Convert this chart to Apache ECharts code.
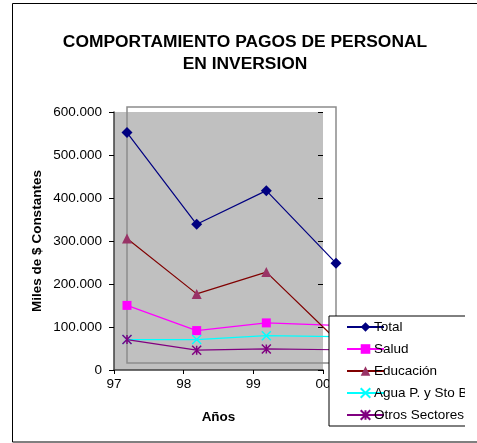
<!DOCTYPE html>
<html>
<head>
<meta charset="utf-8">
<script src="https://cdn.jsdelivr.net/npm/echarts@6/dist/echarts.min.js"></script>
<style>
  html, body { margin: 0; padding: 0; background: #fff; }
  #container { width: 477px; height: 443px; }
</style>
</head>
<body>
<div id="container"></div>
<script>
const years = ["97", "98", "99", "00"];
const total = [540000, 325000, 404000, 234000];
const salud = [135000, 76000, 94000, 88000];
const educacion = [292000, 162000, 213000, 55000];
const agua = [55000, 55000, 64000, 62000];
const otros = [55000, 30000, 33000, 31000];

const FONT = "Liberation Sans, Arial, sans-serif";

const dom = document.getElementById("container");
const myChart = echarts.init(dom, null, { renderer: "canvas" });

function miles(v) {
  return v === 0 ? "0" : v / 1000 + ".000";
}

function serie(name, data, color, symbol, symbolColor, size, stroke) {
  return {
    name: name,
    type: "line",
    xAxisIndex: 1,
    yAxisIndex: 1,
    data: data,
    symbol: symbol,
    symbolSize: size,
    clip: false,
    lineStyle: { color: color, width: 1.2 },
    itemStyle: stroke
      ? { color: symbolColor, borderColor: symbolColor, borderWidth: 1.5 }
      : { color: symbolColor, borderWidth: 0 },
    emphasis: { disabled: true },
  };
}

const option = {
  animation: false,
  textStyle: { fontFamily: FONT },
  title: {
    text: "COMPORTAMIENTO PAGOS DE PERSONAL\nEN INVERSION",
    left: 245,
    top: 31,
    padding: 0,
    textAlign: "center",
    textStyle: {
      fontFamily: FONT,
      fontSize: 17.4,
      fontWeight: "bold",
      color: "#000",
      lineHeight: 22,
    },
  },
  grid: [
    {
      left: 114, top: 112, width: 209, height: 258,
      show: true, backgroundColor: "#c0c0c0", borderWidth: 0,
    },
    {
      left: 127, top: 107, width: 209, height: 256,
      show: true, backgroundColor: "transparent",
      borderColor: "#8c8c8c", borderWidth: 1.5,
    },
  ],
  xAxis: [
    {
      type: "category", gridIndex: 0, data: years, boundaryGap: false,
      axisLine: { lineStyle: { color: "#404040", width: 1.5 } },
      axisTick: { length: 4, lineStyle: { color: "#000" } },
      axisLabel: { fontSize: 13.5, color: "#000", margin: 7, fontFamily: FONT },
      name: "Años", nameLocation: "middle", nameGap: 40,
      nameTextStyle: { fontSize: 13.5, fontWeight: "bold", color: "#000", fontFamily: FONT },
    },
    {
      type: "category", gridIndex: 1, data: years, boundaryGap: false, show: false,
    },
    {
      type: "category", gridIndex: 0, data: years, boundaryGap: false,
      axisLine: { show: false },
      axisTick: { inside: true, length: 4, lineStyle: { color: "#000" } },
      axisLabel: { show: false },
    },
  ],
  yAxis: [
    {
      type: "value", gridIndex: 0, min: 0, max: 600000, interval: 100000,
      splitLine: { show: false },
      axisLine: { show: true, lineStyle: { color: "#404040", width: 1.5 } },
      axisTick: { show: true, length: 5, lineStyle: { color: "#000" } },
      axisLabel: { fontSize: 13.5, color: "#000", margin: 12, formatter: miles, fontFamily: FONT },
      name: "Miles de $ Constantes", nameLocation: "middle", nameGap: 70,
      nameTextStyle: { fontSize: 13.5, fontWeight: "bold", color: "#000", fontFamily: FONT },
    },
    {
      type: "value", gridIndex: 1, min: 0, max: 600000, show: false,
      splitLine: { show: false },
    },
    {
      type: "value", gridIndex: 0, min: 0, max: 600000, interval: 100000,
      splitLine: { show: false },
      axisLine: { show: false },
      axisTick: { show: true, inside: true, length: 5, lineStyle: { color: "#000" } },
      axisLabel: { show: false },
    },
  ],
  legend: {
    orient: "vertical",
    left: 329,
    top: 316,
    padding: [4, 30, 4, 17],
    itemWidth: 37,
    itemHeight: 12,
    itemGap: 8,
    backgroundColor: "#fff",
    borderColor: "#000",
    borderWidth: 1,
    selectedMode: false,
    textStyle: {
      fontSize: 13.5, color: "#000", lineHeight: 14, fontFamily: FONT,
      padding: [0, 0, 0, -15],
    },
    data: ["Total", "Salud", "Educación", "Agua P. y Sto Básico", "Otros Sectores"],
  },
  graphic: [
    {
      type: "rect", z: 100,
      shape: { x: 465, y: 312, width: 20, height: 120 },
      style: { fill: "#fff" },
    },
    {
      type: "rect", z: -10,
      shape: { x: 12.5, y: 3.5, width: 480, height: 438.5 },
      style: { fill: "none", stroke: "#000", lineWidth: 1 },
    },
  ],
  series: [
    serie("Total", total, "#000080", "diamond", "#000080", 11, false),
    serie("Salud", salud, "#ff00ff", "rect", "#ff00ff", 9, false),
    serie("Educación", educacion, "#800000", "triangle", "#993366", 10, false),
    serie("Agua P. y Sto Básico", agua, "#00ffff", "path://M0,0L10,10M10,0L0,10", "#00ffff", 9, true),
    serie("Otros Sectores", otros, "#800080", "path://M0,0L10,10M10,0L0,10M5,0L5,10", "#800080", 9, true),
  ],
};

myChart.setOption(option);
window.addEventListener("resize", myChart.resize);
</script>
</body>
</html>
